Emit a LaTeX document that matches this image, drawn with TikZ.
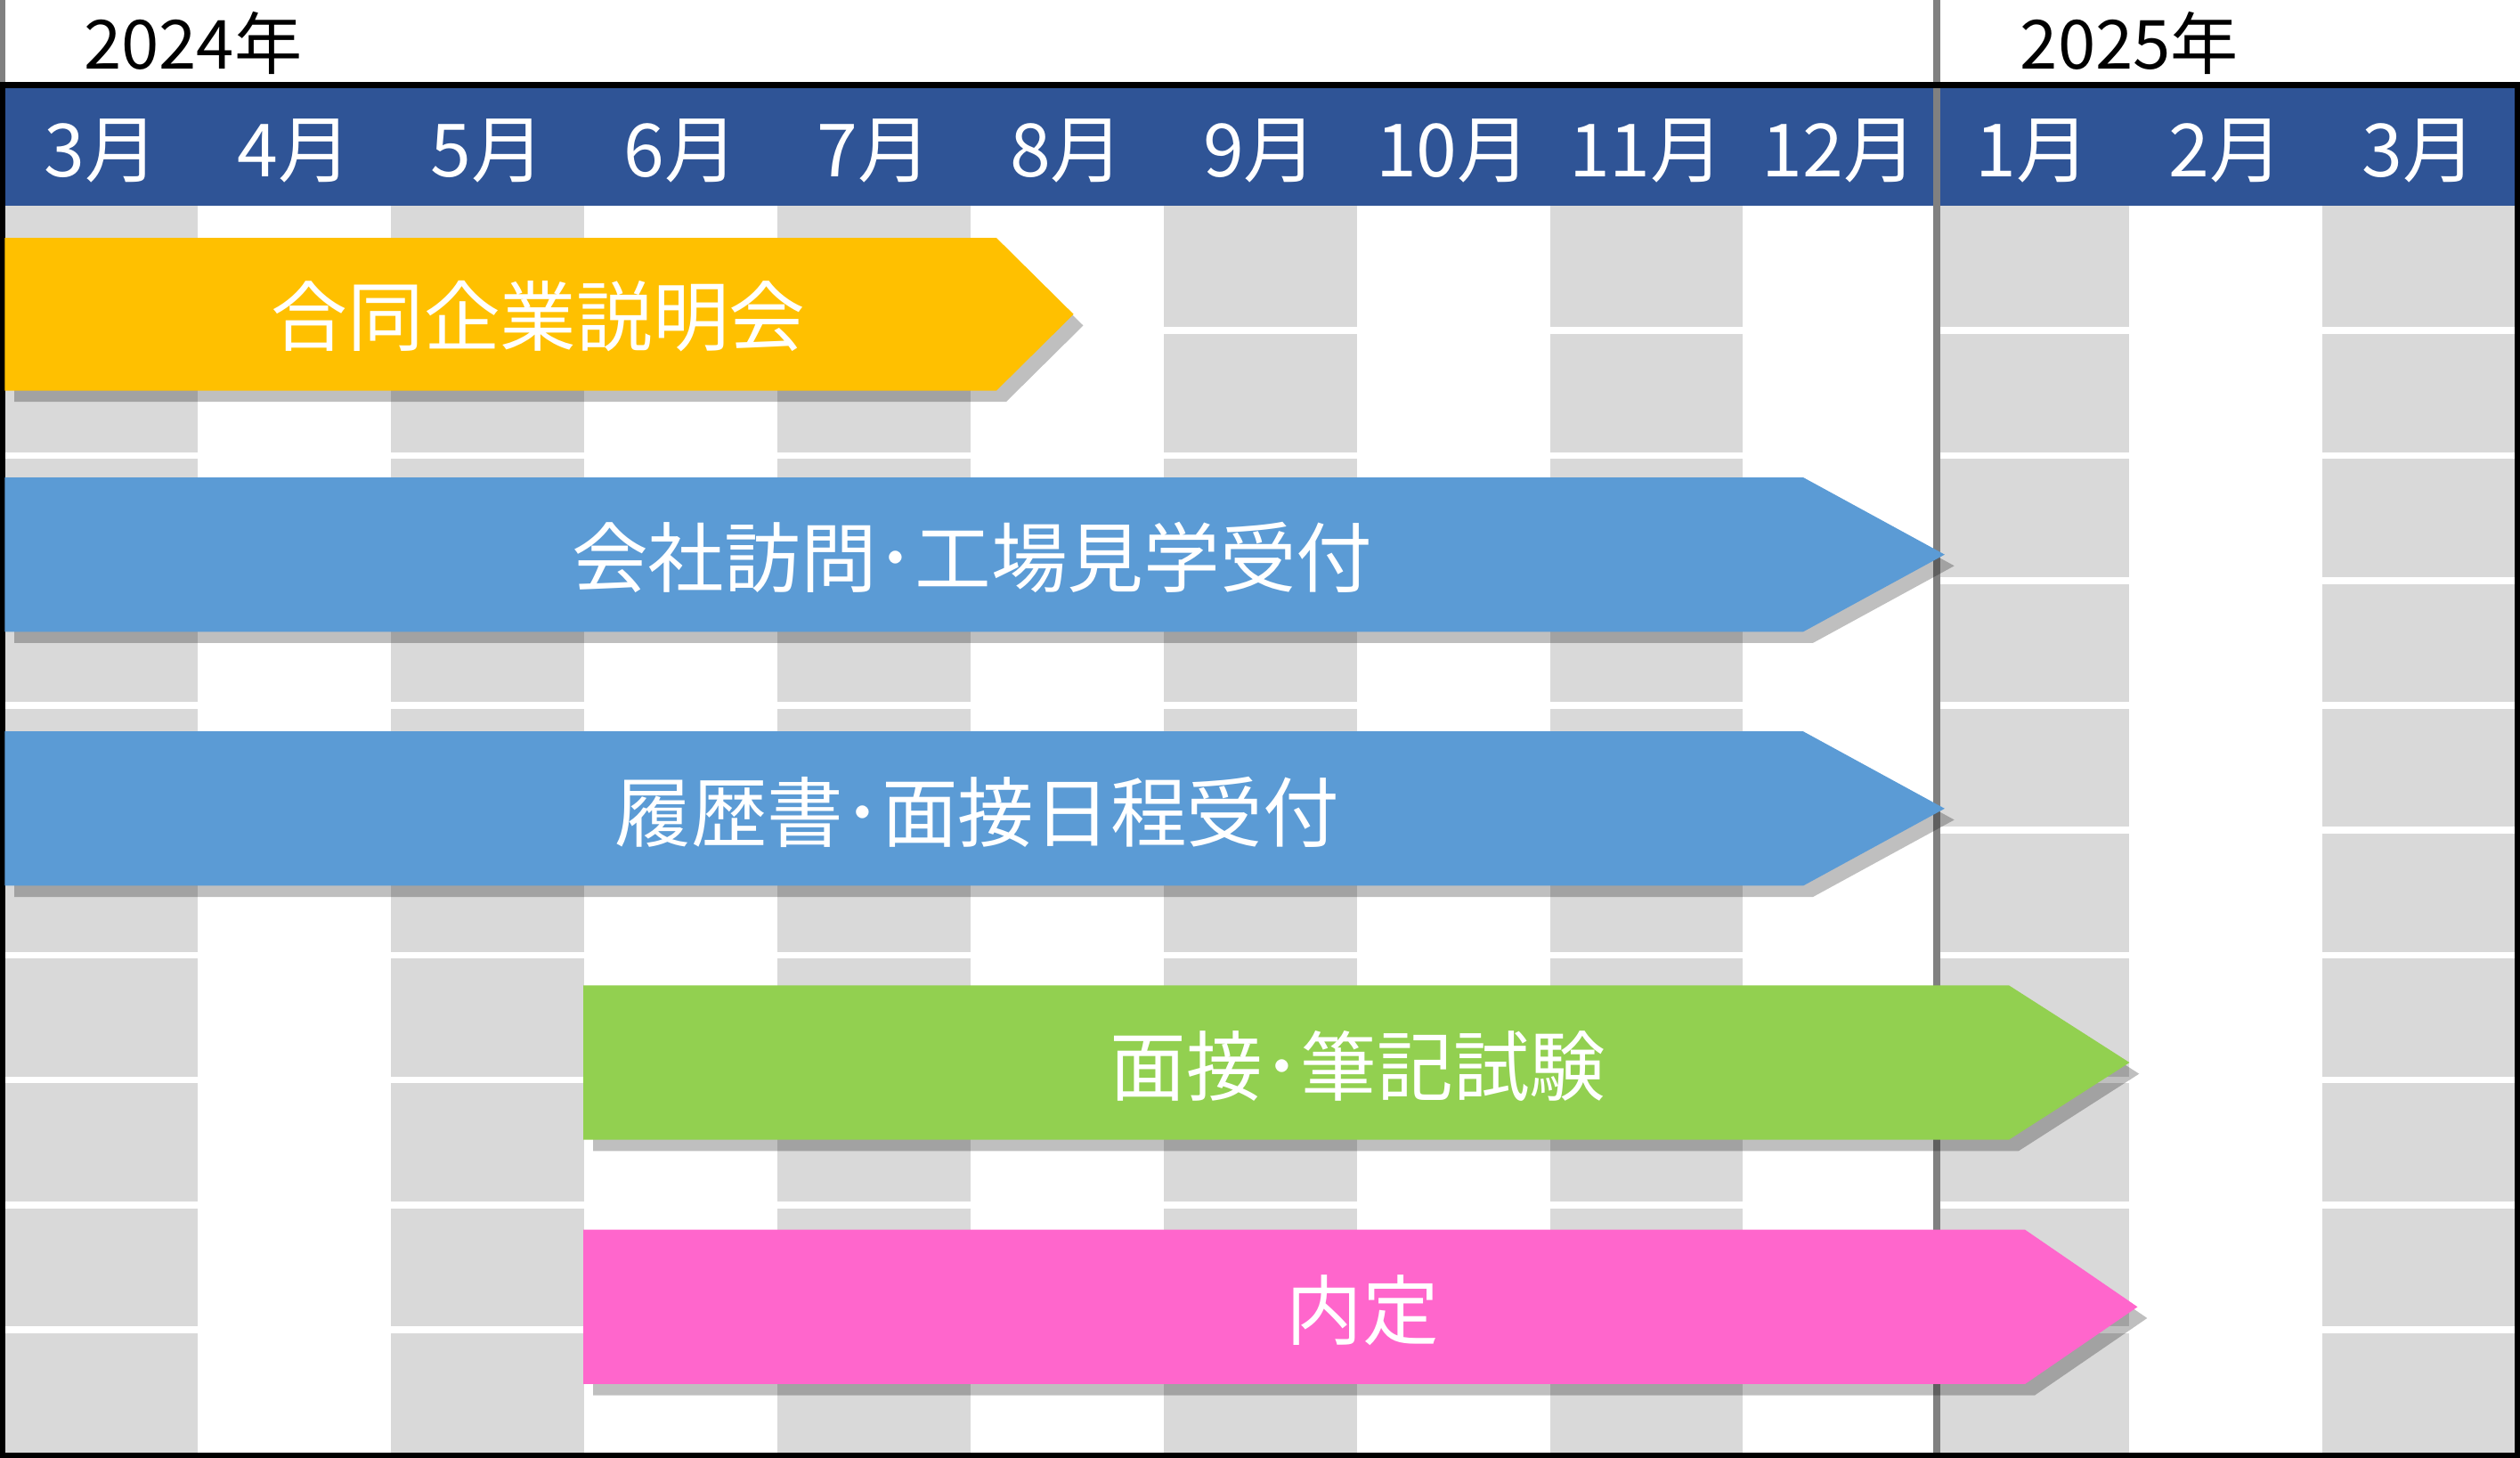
\documentclass[tikz,border=0pt]{standalone}
\usepackage{fontspec}
\setmainfont{Liberation Sans}
\newfontfamily\jpfont{Noto Sans CJK JP}
\usetikzlibrary{positioning}
\usetikzlibrary{calc}
\definecolor{headblue}{HTML}{2F5496}
\definecolor{barblue}{HTML}{5B9BD5}
\definecolor{baryellow}{HTML}{FFC000}
\definecolor{bargreen}{HTML}{92D050}
\definecolor{barpink}{HTML}{FF66CC}
\definecolor{colgray}{HTML}{D9D9D9}
\tikzset{month/.style={text=white, font=\jpfont\fontsize{13}{13}\selectfont},
         year/.style={text=black, font=\jpfont\fontsize{12}{12}\selectfont},
         barlabel/.style={text=white, font=\jpfont\fontsize{13.5}{13.5}\selectfont},
         barshadow/.style={fill=black, opacity=0.25}}
% bar: ymin, ymax, xstart, xbody, xtip, colour
\newcommand{\planbar}[6]{%
  \fill[barshadow] (#3+0.06,-#1-0.07) -- (#4+0.06,-#1-0.07) -- (#5+0.06,{-(#1+#2)/2-0.07}) -- (#4+0.06,-#2-0.07) -- (#3+0.06,-#2-0.07) -- cycle;
  \fill[#6] (#3,-#1) -- (#4,-#1) -- (#5,{-(#1+#2)/2}) -- (#4,-#2) -- (#3,-#2) -- cycle;}
\begin{document}
\begin{tikzpicture}[x=1cm,y=1cm]
\useasboundingbox (0,0) rectangle (15.68,-9.07);
% columns
\foreach \c in {0,2,4,6,8,10,12}
  \fill[colgray] ({0.03+\c*1.2017},-1.28) rectangle ({0.03+(\c+1)*1.2017},-9.05);
\foreach \r in {1,...,9}
  \draw[white, line width=1.2pt] (0.03,{-1.28-\r*0.777}) -- (15.65,{-1.28-\r*0.777});
% header
\fill[headblue] (0.03,-0.53) rectangle (15.65,-1.28);
\draw[black, line width=1pt] (0.03,-0.53) -- (15.65,-0.53);
\foreach \m [count=\i from 0] in {3,4,5,6,7,8,9,10,11,12,1,2,3}
  \node[month] (m\i) at ({0.03+(\i+0.5)*1.2017},-0.94) {\m 月};
\node[year] (y2024) at (1.2,-0.27) {2024年};
\node[year] (y2025) at (13.25,-0.27) {2025年};
\draw[gray, line width=1.2pt] (12.05,0) -- (12.05,-9.05);
\draw[gray, line width=1pt] (0.015,0) -- (0.015,-0.53);
\draw[black, line width=1pt] (0.015,-0.53) rectangle (15.665,-9.055);
% bars
\planbar{1.48}{2.43}{0.03}{6.20}{6.68}{baryellow}
\planbar{2.97}{3.93}{0.03}{11.22}{12.10}{barblue}
\planbar{4.55}{5.51}{0.03}{11.22}{12.10}{barblue}
\planbar{6.13}{7.09}{3.63}{12.50}{13.25}{bargreen}
\planbar{7.65}{8.61}{3.63}{12.60}{13.30}{barpink}
\node[barlabel] (b1) at (3.35,-1.97) {合同企業説明会};
\node[barlabel] (b2) at (6.05,-3.47) {会社訪問･工場見学受付};
\node[barlabel] (b3) at (6.08,-5.05) {履歴書･面接日程受付};
\node[barlabel] (b4) at (8.45,-6.63) {面接･筆記試験};
\node[barlabel] (b5) at (8.48,-8.15) {内定};
\end{tikzpicture}
\end{document}
